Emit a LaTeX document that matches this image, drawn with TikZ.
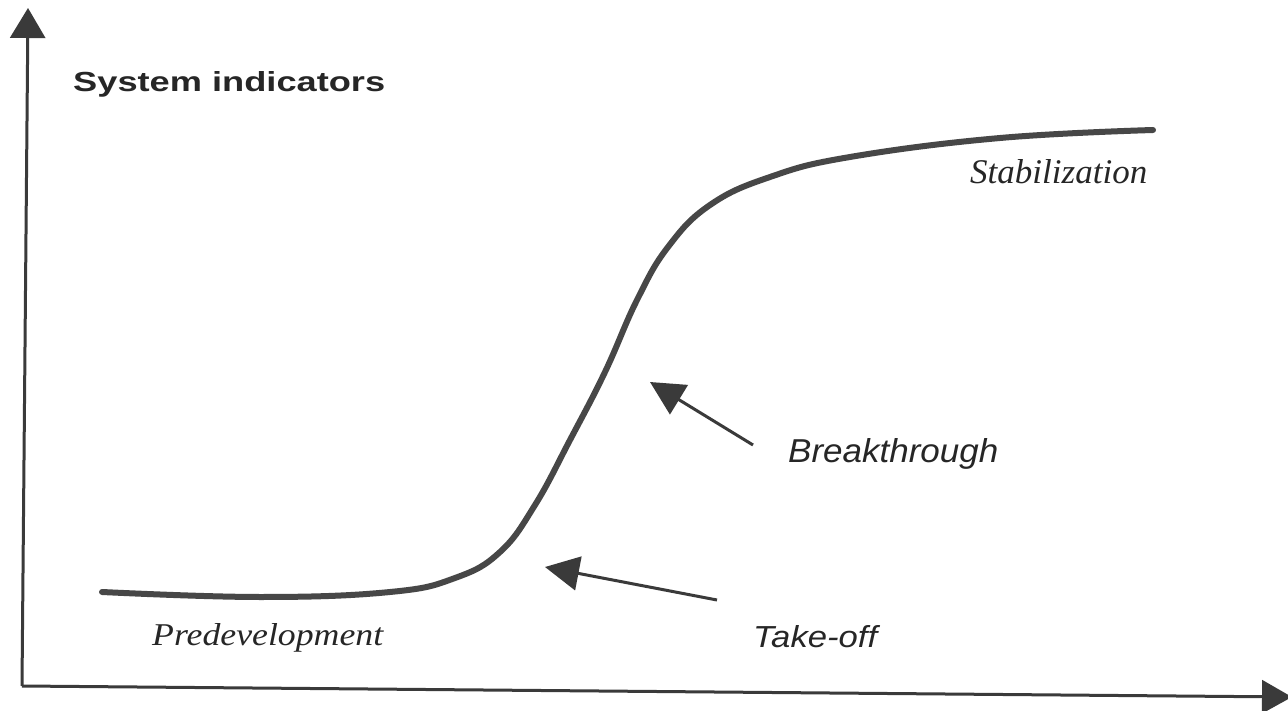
\documentclass[tikz,border=0pt]{standalone}
\usepackage{fontspec}
\setmainfont{Liberation Serif}
\newfontfamily\arialfont{Liberation Sans}
\usetikzlibrary{arrows.meta}
\definecolor{ink}{HTML}{3A3A3A}
\definecolor{curveink}{HTML}{474747}
\tikzset{
  axis/.style={draw=ink, line width=3pt},
  pointer/.style={draw=ink, line width=3pt, -{Triangle[length=34pt,width=34pt]}},
  scurve/.style={draw=curveink, line width=6pt},
  lbl/.style={inner sep=0pt, anchor=base west, text=black!85},
}
\begin{document}
\begin{tikzpicture}[x=1pt,y=-1pt]
\useasboundingbox (0,0) rectangle (1288,711);
\fill[white] (0,0) rectangle (1288,711);
\clip (0,0) rectangle (1288,711);
% axes
\coordinate (origin) at (22,686);
\coordinate (ytop) at (28,8);
\coordinate (xend) at (1292,697);
\draw[axis, -{Triangle[length=30pt,width=35pt]}] (origin) -- (ytop);
\draw[axis, -{Triangle[length=30pt,width=33pt]}] (origin) -- (xend);
% S-curve
\draw[scurve, line cap=round] plot[smooth, tension=0.7] coordinates {
 (102,592) (260,597) (390,592) (455,578) (500,552) (535,505)
 (570,440) (605,372) (637,300) (668,247) (710,205) (770,177)
 (850,157) (1000,138) (1153,130)};
% labels
\node[lbl] (sys) at (73,92) {\resizebox{312pt}{20pt}{\arialfont\bfseries System indicators}};
\node[lbl] (stab) at (970,184) {\resizebox{177pt}{24pt}{\itshape Stabilization}};
\node[lbl] (brk) at (788,462) {\resizebox{210pt}{24pt}{\arialfont\itshape Breakthrough}};
\node[lbl] (tko) at (753,647) {\resizebox{124pt}{22pt}{\arialfont\itshape Take-off}};
\node[lbl] (pre) at (152,645) {\resizebox{231pt}{22pt}{\itshape Predevelopment}};
% pointers
\coordinate (brktail) at (753,445);
\coordinate (brktip) at (650,382);
\coordinate (tkotail) at (717,600);
\coordinate (tkotip) at (545,567);
\draw[pointer] (brktail) -- (brktip);
\draw[pointer] (tkotail) -- (tkotip);
\end{tikzpicture}
\end{document}
